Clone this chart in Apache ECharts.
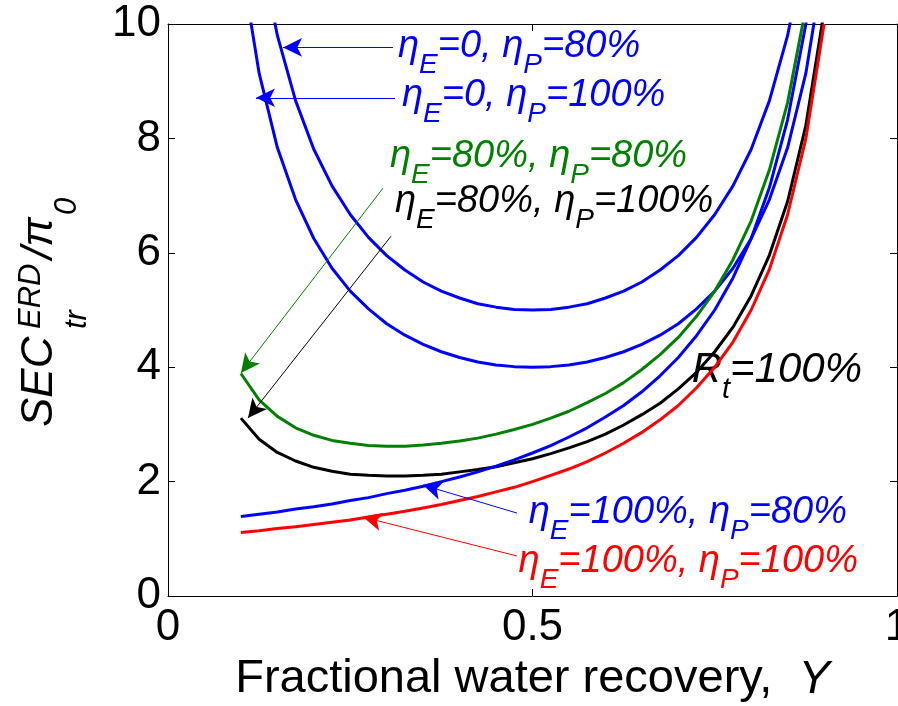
<!DOCTYPE html>
<html>
<head>
<meta charset="utf-8">
<script src="https://cdn.jsdelivr.net/npm/echarts@6/dist/echarts.min.js"></script>
<style>
html,body{margin:0;padding:0;background:#fff;}
#chart{width:898px;height:706px;}
</style>
</head>
<body>
<div id="chart"></div>
<script>
// ---- data ----
const recovery = [0.100,0.125,0.150,0.175,0.200,0.225,0.250,0.275,0.300,0.325,0.350,0.375,0.400,0.425,0.450,0.475,0.500,0.525,0.550,0.575,0.600,0.625,0.650,0.675,0.700,0.725,0.750,0.775,0.800,0.825,0.850,0.875,0.900];
const secE0P80   = [13.89,11.43,9.80,8.66,7.81,7.17,6.67,6.27,5.95,5.70,5.49,5.33,5.21,5.11,5.05,5.01,5.00,5.01,5.05,5.11,5.21,5.33,5.49,5.70,5.95,6.27,6.67,7.17,7.81,8.66,9.80,11.43,13.89];
const secE0P100  = [11.11,9.14,7.84,6.93,6.25,5.73,5.33,5.02,4.76,4.56,4.40,4.27,4.17,4.09,4.04,4.01,4.00,4.01,4.04,4.09,4.17,4.27,4.40,4.56,4.76,5.02,5.33,5.73,6.25,6.93,7.84,9.14,11.11];
const secE80P80  = [3.89,3.43,3.14,2.94,2.81,2.72,2.67,2.63,2.62,2.62,2.64,2.67,2.71,2.76,2.83,2.91,3.00,3.11,3.23,3.38,3.54,3.73,3.96,4.22,4.52,4.89,5.33,5.88,6.56,7.45,8.63,10.29,12.78];
const secE80P100 = [3.11,2.74,2.51,2.36,2.25,2.18,2.13,2.11,2.10,2.10,2.11,2.13,2.17,2.21,2.26,2.33,2.40,2.49,2.59,2.70,2.83,2.99,3.17,3.37,3.62,3.91,4.27,4.70,5.25,5.96,6.90,8.23,10.22];
const secE100P80 = [1.39,1.43,1.47,1.52,1.56,1.61,1.67,1.72,1.79,1.85,1.92,2.00,2.08,2.17,2.27,2.38,2.50,2.63,2.78,2.94,3.13,3.33,3.57,3.85,4.17,4.55,5.00,5.56,6.25,7.14,8.33,10.00,12.50];
const secE100P100= [1.11,1.14,1.18,1.21,1.25,1.29,1.33,1.38,1.43,1.48,1.54,1.60,1.67,1.74,1.82,1.90,2.00,2.11,2.22,2.35,2.50,2.67,2.86,3.08,3.33,3.64,4.00,4.44,5.00,5.71,6.67,8.00,10.00];
const xTicks = [0, 0.5, 1];
const yTicks = [0, 2, 4, 6, 8, 10];
// annotation arrows: [fromX, fromY, toX, toY] in data units
const arrowE0P80    = [0.3086, 9.59, 0.1578, 9.59];
const arrowE0P100   = [0.3114, 8.71, 0.1207, 8.71];
const arrowE80P80   = [0.2949, 7.13, 0.1001, 3.90];
const arrowE80P100  = [0.3059, 6.29, 0.1097, 3.11];
const arrowE100P80  = [0.4787, 1.45, 0.3498, 1.94];
const arrowE100P100 = [0.4787, 0.70, 0.2675, 1.38];

const FONT = "'Liberation Sans', Arial, Helvetica, sans-serif";
const pairs = (ys) => recovery.map((x, i) => [x, ys[i]]);

function arrowLine(a, color) {
  return {
    silent: true,
    symbol: ['none', 'arrow'],
    symbolSize: [14, 19],
    label: { show: false },
    lineStyle: { color: color, width: 1, type: 'solid' },
    data: [[{ coord: [a[0], a[1]] }, { coord: [a[2], a[3]] }]]
  };
}
function curve(name, ys, color, arrow) {
  return {
    name: name, type: 'line', data: pairs(ys), showSymbol: false, smooth: false,
    clip: true, lineStyle: { color: color, width: 3 }, itemStyle: { color: color },
    animation: false,
    markLine: arrowLine(arrow, color)
  };
}

const MAIN = 38, SUB = 28, LH = 66;
function richFor(color, main, sub, lh) {
  return {
    m: { fontFamily: FONT, fontStyle: 'italic', fontSize: main, fill: color, lineHeight: lh, verticalAlign: 'middle' },
    s: { fontFamily: FONT, fontStyle: 'italic', fontSize: sub, fill: color, lineHeight: sub, verticalAlign: 'bottom' }
  };
}
function etaText(x, y, align, color, e, p) {
  return {
    type: 'text', x: x, y: y, silent: true,
    style: {
      text: '{m|η}{s|E}{m|=' + e + ', η}{s|P}{m|=' + p + '}',
      align: align, verticalAlign: 'middle',
      rich: richFor(color, MAIN, SUB, LH)
    }
  };
}

const chart = echarts.init(document.getElementById('chart'), null, { renderer: 'canvas' });
const axisCommon = {
  type: 'value',
  axisLine: { show: true, onZero: false, lineStyle: { color: '#000', width: 1 } },
  axisTick: { show: true, inside: true, length: 7, lineStyle: { color: '#000', width: 1 } },
  splitLine: { show: false }
};
chart.setOption({
  animation: false,
  backgroundColor: '#fff',
  grid: { left: 168, top: 24, right: 1, bottom: 110, containLabel: false, outerBoundsMode: 'none' },
  xAxis: [
    Object.assign({}, axisCommon, {
      position: 'bottom', min: xTicks[0], max: xTicks[xTicks.length - 1], interval: xTicks[1] - xTicks[0],
      axisLabel: { show: true, margin: 10, color: '#000', fontFamily: FONT, fontSize: 44, hideOverlap: false },
      name: 'Fractional water recovery,  {it|Y}', nameLocation: 'middle', nameGap: 60,
      nameTextStyle: { color: '#000', fontFamily: FONT, fontSize: 47,
        rich: { it: { fontFamily: FONT, fontSize: 47, fontStyle: 'italic', color: '#000' } } }
    }),
    Object.assign({}, axisCommon, {
      position: 'top', min: xTicks[0], max: xTicks[xTicks.length - 1], interval: xTicks[1] - xTicks[0],
      axisLabel: { show: false }
    })
  ],
  yAxis: [
    Object.assign({}, axisCommon, {
      position: 'left', min: yTicks[0], max: yTicks[yTicks.length - 1], interval: yTicks[1] - yTicks[0],
      axisLabel: { show: true, margin: 7, color: '#000', fontFamily: FONT, fontSize: 44 }
    }),
    Object.assign({}, axisCommon, {
      position: 'right', min: yTicks[0], max: yTicks[yTicks.length - 1], interval: yTicks[1] - yTicks[0],
      axisLabel: { show: false }
    })
  ],
  series: [
    curve('ηE=0, ηP=80%', secE0P80, '#0000ff', arrowE0P80),
    curve('ηE=0, ηP=100%', secE0P100, '#0000ff', arrowE0P100),
    curve('ηE=80%, ηP=80%', secE80P80, '#008000', arrowE80P80),
    curve('ηE=80%, ηP=100%', secE80P100, '#000000', arrowE80P100),
    curve('ηE=100%, ηP=80%', secE100P80, '#0000ff', arrowE100P80),
    curve('ηE=100%, ηP=100%', secE100P100, '#ff0000', arrowE100P100)
  ],
  graphic: [
    etaText(398, 46, 'left', '#0000ff', '0', '80%'),
    etaText(402, 95, 'left', '#0000ff', '0', '100%'),
    etaText(390, 156, 'left', '#008000', '80%', '80%'),
    etaText(395, 201, 'left', '#000000', '80%', '100%'),
    etaText(847, 512, 'right', '#0000ff', '100%', '80%'),
    etaText(858, 561, 'right', '#ff0000', '100%', '100%'),
    {
      type: 'text', x: 862, y: 370, silent: true,
      style: { text: '{m|R}{s|t}{m|=100%}', align: 'right', verticalAlign: 'middle',
        rich: richFor('#000', 42, 29, 68) }
    },
    {
      type: 'group', x: 55, y: 427, rotation: Math.PI / 2, silent: true,
      children: [
        { type: 'text', x: 0, y: -15, style: { text: 'SEC', fontFamily: FONT, fontStyle: 'italic', fontSize: 44, fill: '#000', align: 'left', verticalAlign: 'middle' } },
        { type: 'text', x: 98, y: -24, style: { text: 'ERD', fontFamily: FONT, fontStyle: 'italic', fontSize: 31, fill: '#000', align: 'left', verticalAlign: 'middle' } },
        { type: 'text', x: 98, y: 22, style: { text: 'tr', fontFamily: FONT, fontStyle: 'italic', fontSize: 31, fill: '#000', align: 'left', verticalAlign: 'middle' } },
        { type: 'text', x: 168, y: -15, style: { text: '/π', fontFamily: FONT, fontStyle: 'italic', fontSize: 44, fill: '#000', align: 'left', verticalAlign: 'middle' } },
        { type: 'text', x: 212, y: 12, style: { text: '0', fontFamily: FONT, fontStyle: 'italic', fontSize: 31, fill: '#000', align: 'left', verticalAlign: 'middle' } }
      ]
    }
  ]
});
</script>
</body>
</html>
